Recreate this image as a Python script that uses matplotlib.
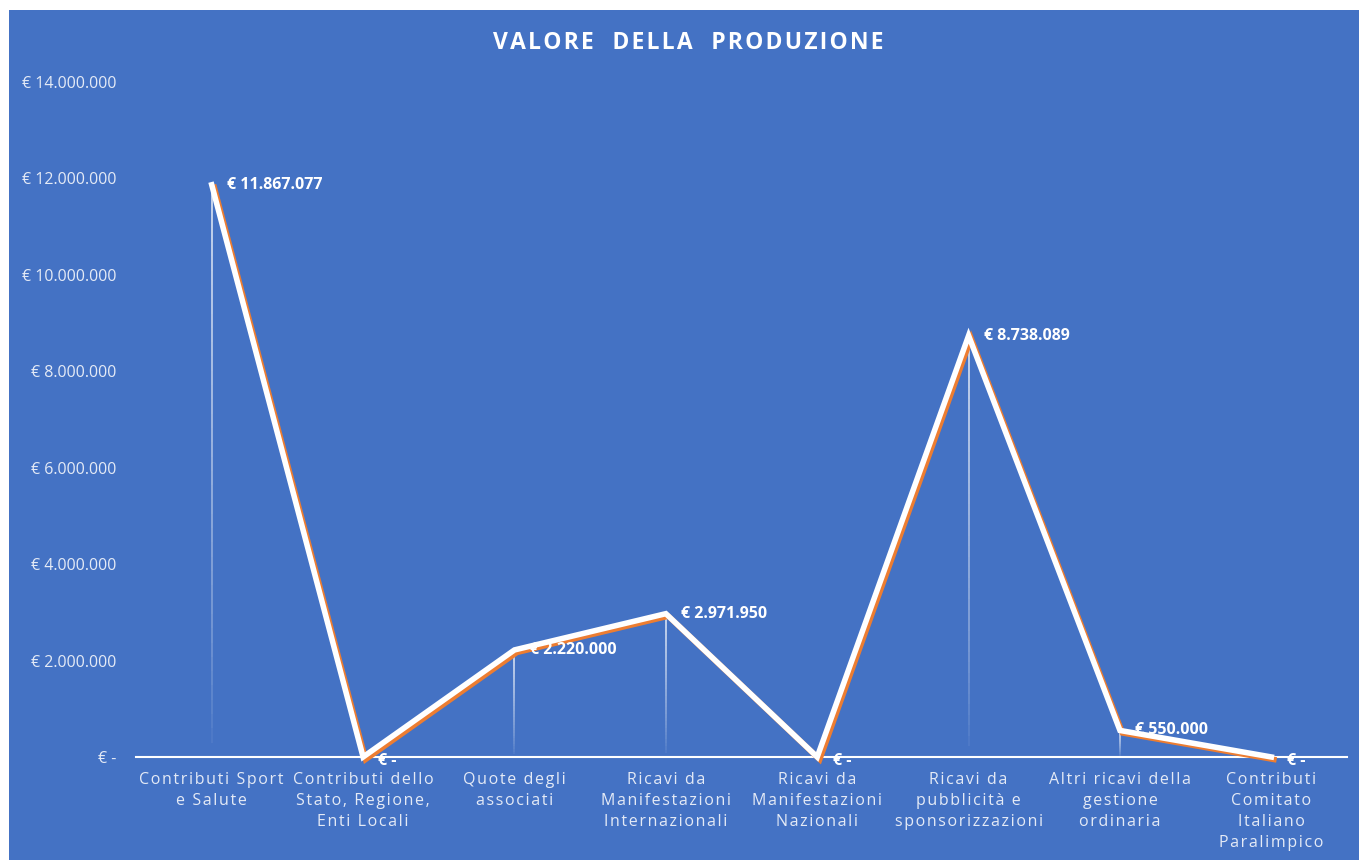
import numpy as np
import matplotlib
matplotlib.use("Agg")
import matplotlib.pyplot as plt
import matplotlib.patheffects as pe
from matplotlib.patches import Rectangle
from matplotlib.collections import LineCollection
from matplotlib.ticker import FuncFormatter

# ---------- data ----------
categories = [
    "Contributi Sport\ne Salute",
    "Contributi dello\nStato, Regione,\nEnti Locali",
    "Quote degli\nassociati",
    "Ricavi da\nManifestazioni\nInternazionali",
    "Ricavi da\nManifestazioni\nNazionali",
    "Ricavi da\npubblicità e\nsponsorizzazioni",
    "Altri ricavi della\ngestione\nordinaria",
    "Contributi\nComitato\nItaliano\nParalimpico",
]
values = [11867077, 0, 2220000, 2971950, 0, 8738089, 550000, 0]
y_ticks = [0, 2000000, 4000000, 6000000, 8000000, 10000000, 12000000, 14000000]

BLUE = "#4472C4"
ORANGE = "#ED7D31"
LIGHT = "#E4EAF6"
HAIR = "\u200a"


def euro(v):
    if v == 0:
        return "€ -"
    return "€ " + f"{int(v):,}".replace(",", ".")


def spaced(s):
    # fake letter spacing, Excel style
    return "\n".join(HAIR.join(line) for line in s.split("\n"))


plt.rcParams["font.family"] = ["Open Sans", "DejaVu Sans"]

fig = plt.figure(figsize=(13.59, 8.60), dpi=100)
fig.patch.set_facecolor("white")
# blue chart area
fig.patches.append(Rectangle((9 / 1359, 0), 1 - 9 / 1359, 1 - 10 / 860,
                             transform=fig.transFigure, facecolor=BLUE,
                             edgecolor="none", zorder=-10))

ax = fig.add_axes([0.1001, 0.1198, 0.8911, 0.7849])
ax.set_facecolor("none")

x = np.arange(len(values))

# drop lines, fading towards the axis
n_seg = 40
for xi, v in zip(x, values):
    if v == 0:
        continue
    ys = np.linspace(0, v, n_seg + 1)
    segs = [[(xi, ys[i]), (xi, ys[i + 1])] for i in range(n_seg)]
    alphas = np.linspace(0.0, 0.85, n_seg) ** 0.7
    cols = [(1, 1, 1, a) for a in alphas]
    ax.add_collection(LineCollection(segs, colors=cols, linewidths=1.1, zorder=2))

# main line with orange shadow
ax.plot(x, values, color="white", linewidth=4, solid_joinstyle="miter",
        clip_on=False, zorder=3,
        path_effects=[pe.SimpleLineShadow(offset=(1.8, -1.8), shadow_color=ORANGE,
                                          alpha=1, rho=1),
                      pe.Normal()])

# data labels
for xi, v in zip(x, values):
    dy = -3 if v == 0 else 0
    ax.annotate(euro(v), (xi, v), xytext=(11, dy), textcoords="offset points",
                ha="left", va="center", color="white", fontsize=11.5,
                fontweight="bold", zorder=4)

ax.set_xlim(-0.5, len(values) - 0.5)
ax.set_ylim(0, 14000000)
ax.set_yticks(y_ticks)
ax.yaxis.set_major_formatter(FuncFormatter(lambda v, p: euro(v)))
ax.set_xticks(x)
ax.set_xticklabels([spaced(c) for c in categories], fontsize=11.5, color=LIGHT,
                   linespacing=1.42)
ax.tick_params(axis="y", length=0, pad=14, labelsize=11.5, labelcolor=LIGHT)
ax.tick_params(axis="x", length=0, pad=11)

for s in ["top", "right", "left"]:
    ax.spines[s].set_visible(False)
ax.spines["bottom"].set_color("white")
ax.spines["bottom"].set_linewidth(1.5)
ax.spines["bottom"].set_zorder(2.5)

fig.text(0.5063, 1 - 43 / 860, spaced("VALORE  DELLA  PRODUZIONE"), ha="center",
         va="center", color="white", fontsize=16.5, fontweight="bold")

fig.savefig("out.png", dpi=100)
